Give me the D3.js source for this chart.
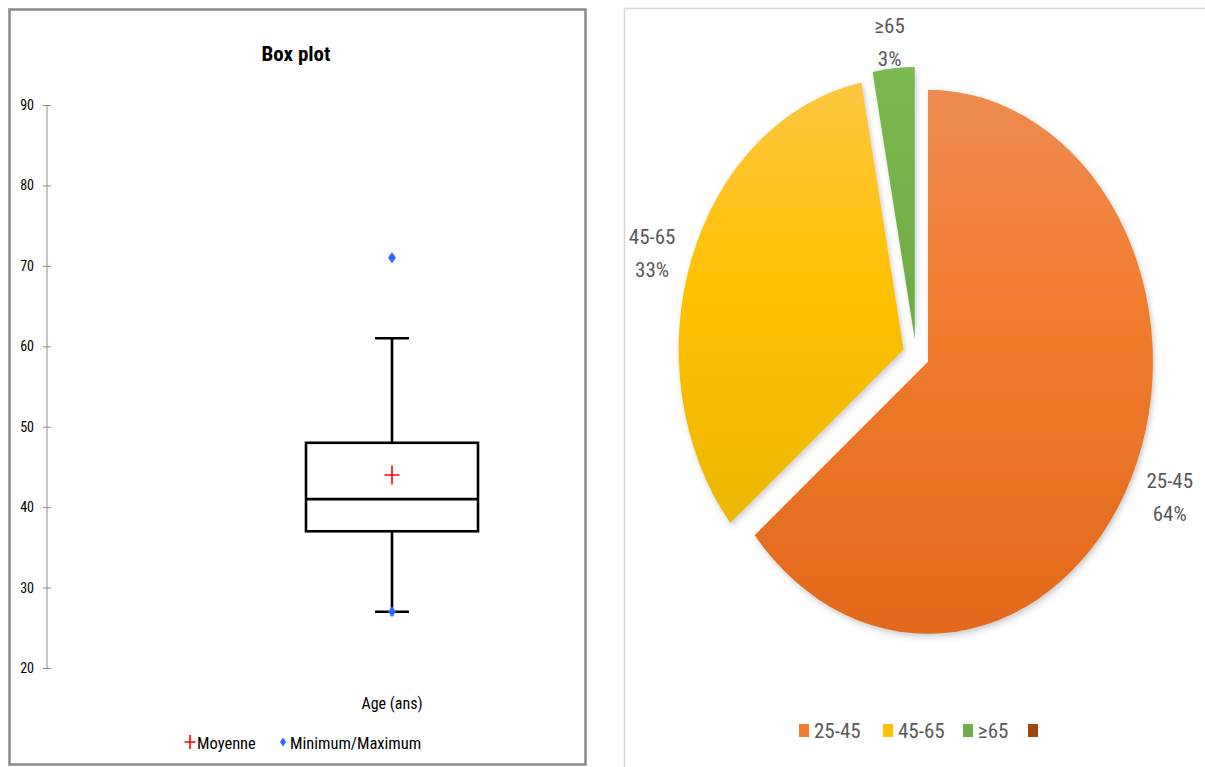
<!DOCTYPE html>
<html>
<head>
<meta charset="utf-8">
<script src="https://cdn.jsdelivr.net/npm/d3@7"></script>
<style>
  html, body { margin: 0; padding: 0; background: #fff; }
  svg { display: block; }
  text { font-family: "Liberation Sans Narrow", "Roboto Condensed", "Liberation Sans", Arial, sans-serif; }
</style>
</head>
<body>
<svg id="chart" width="1205" height="767"></svg>
<script>
// ---------- Data: Box plot ----------
const boxTitle = "Box plot";
const boxCategory = "Age (ans)";
const yTicks = [20, 30, 40, 50, 60, 70, 80, 90];
const boxStats = { whiskerLow: 27, q1: 37, median: 41, q3: 48, whiskerHigh: 61 };
const boxMean = [44];
const boxMinMax = [27, 71];
const boxLegend = ["Moyenne", "Minimum/Maximum"];

// ---------- Data: Pie ----------
const pieCategories = ["25-45", "45-65", "≥65", ""];
const pieValues = [64, 33, 3, 0];
const pieLabels = ["64%", "33%", "3%", ""];
const pieColors = [
  ["#ee8c53", "#f27c2e", "#e2681a"],
  ["#fdc745", "#ffc000", "#e2b20a"],
  ["#7cba50", "#70ad47", "#629e3c"],
  ["#a5501a", "#9e480e", "#8c3e0a"]
];

const svg = d3.select("#chart");

// ================= LEFT PANEL: BOX PLOT =================
svg.append("rect")
  .attr("x", 9.5).attr("y", 9.5).attr("width", 576).attr("height", 755)
  .attr("fill", "#fff").attr("stroke", "#8a8a8a").attr("stroke-width", 2.5);

svg.append("text")
  .attr("x", 296).attr("y", 61).attr("text-anchor", "middle")
  .attr("font-size", 21).attr("font-weight", "bold").attr("fill", "#000")
  .text(boxTitle);

const y = d3.scaleLinear().domain([20, 90]).range([668, 105]);
const x = d3.scaleBand().domain([boxCategory]).range([218, 566]);

const yAxis = svg.append("g")
  .attr("transform", "translate(47,0)")
  .call(d3.axisLeft(y).tickValues(yTicks).tickSize(4).tickPadding(9).tickFormat(d3.format("d")));
yAxis.select(".domain").attr("stroke", "#8c8c8c").attr("d", `M0,${y(20)}V${y(90)}`);
yAxis.selectAll(".tick line").attr("x1", 4).attr("x2", -4).attr("stroke", "#8c8c8c");
yAxis.selectAll(".tick text").attr("font-size", 14).attr("fill", "#000")
  .style("font-family", "'Liberation Sans Narrow', 'Roboto Condensed', 'Liberation Sans', Arial, sans-serif");

const cx = x(boxCategory) + x.bandwidth() / 2;
const boxHalf = 86;
const capHalf = 17;
const g = svg.append("g").attr("stroke", "#000").attr("stroke-width", 2.6).attr("fill", "none");
// whiskers
g.append("line").attr("x1", cx).attr("x2", cx).attr("y1", y(boxStats.q3)).attr("y2", y(boxStats.whiskerHigh));
g.append("line").attr("x1", cx).attr("x2", cx).attr("y1", y(boxStats.q1)).attr("y2", y(boxStats.whiskerLow));
g.append("line").attr("x1", cx - capHalf).attr("x2", cx + capHalf).attr("y1", y(boxStats.whiskerHigh)).attr("y2", y(boxStats.whiskerHigh));
g.append("line").attr("x1", cx - capHalf).attr("x2", cx + capHalf).attr("y1", y(boxStats.whiskerLow)).attr("y2", y(boxStats.whiskerLow));
// box
g.append("rect").attr("x", cx - boxHalf).attr("width", boxHalf * 2)
  .attr("y", y(boxStats.q3)).attr("height", y(boxStats.q1) - y(boxStats.q3)).attr("fill", "#fff");
g.append("line").attr("x1", cx - boxHalf).attr("x2", cx + boxHalf).attr("y1", y(boxStats.median)).attr("y2", y(boxStats.median));

// mean plus
function plus(sel, px, py, w, h) {
  sel.append("path").attr("d", `M${px - w / 2},${py}H${px + w / 2}M${px},${py - h / 2}V${py + h / 2}`)
    .attr("stroke", "#ff0000").attr("stroke-width", 1.6).attr("fill", "none");
}
boxMean.forEach(m => plus(svg, cx, y(m), 15, 19));

// min / max diamonds
function diamond(sel, px, py, w, h) {
  sel.append("path").attr("d", `M${px},${py - h / 2}L${px + w / 2},${py}L${px},${py + h / 2}L${px - w / 2},${py}Z`)
    .attr("fill", "#3366ff");
}
boxMinMax.forEach(v => diamond(svg, cx, y(v), 8, 11));

// category label
svg.append("text").attr("x", cx).attr("y", 709).attr("text-anchor", "middle")
  .attr("font-size", 16).attr("fill", "#000").text(boxCategory);

// legend
plus(svg, 190, 742, 11, 14);
svg.append("text").attr("x", 197).attr("y", 749).attr("font-size", 16.5).attr("fill", "#000").text(boxLegend[0]);
diamond(svg, 283, 742, 6, 9);
svg.append("text").attr("x", 290).attr("y", 749).attr("font-size", 16.5).attr("fill", "#000").text(boxLegend[1]);

// ================= RIGHT PANEL: PIE =================
svg.append("rect")
  .attr("x", 624.5).attr("y", 8.5).attr("width", 620).attr("height", 800)
  .attr("fill", "#fff").attr("stroke", "#d6d6d6").attr("stroke-width", 1.5);

const defs = svg.append("defs");
const shadow = defs.append("filter").attr("id", "shadow")
  .attr("x", "-20%").attr("y", "-20%").attr("width", "140%").attr("height", "140%");
shadow.append("feDropShadow").attr("dx", 2).attr("dy", 3).attr("stdDeviation", 3)
  .attr("flood-color", "#4a5060").attr("flood-opacity", 0.3);

const pcx = 916, pcy = 355, R = 272, sx = 0.827, explode = 16;

pieColors.forEach((c, i) => {
  const lg = defs.append("linearGradient").attr("id", "grad" + i)
    .attr("gradientUnits", "userSpaceOnUse")
    .attr("x1", 0).attr("x2", 0).attr("y1", -R - 10).attr("y2", R + 10);
  lg.append("stop").attr("offset", "0%").attr("stop-color", c[0]);
  lg.append("stop").attr("offset", "40%").attr("stop-color", c[1]);
  lg.append("stop").attr("offset", "100%").attr("stop-color", c[2]);
});

const pie = d3.pie().sort(null).value(d => d).startAngle(0).endAngle(2 * Math.PI);
const arcs = pie(pieValues);
const arc = d3.arc().innerRadius(0).outerRadius(R);

const pieG = svg.append("g").attr("transform", `translate(${pcx},${pcy})`);
arcs.forEach((a, i) => {
  if (a.value <= 0) return;
  const mid = (a.startAngle + a.endAngle) / 2;
  const dx = Math.sin(mid) * explode * sx, dy = -Math.cos(mid) * explode;
  pieG.append("path")
    .attr("d", arc(a))
    .attr("transform", `translate(${dx},${dy}) scale(${sx},1)`)
    .attr("fill", `url(#grad${i})`)
    .attr("filter", "url(#shadow)");
});

// data labels
const gap = 10, hw = 34, hh = 22;
arcs.forEach((a, i) => {
  if (a.value <= 0) return;
  const mid = (a.startAngle + a.endAngle) / 2;
  const ux = Math.sin(mid), uy = -Math.cos(mid);
  const rr = R + explode + gap;
  const lx = pcx + ux * rr * sx + ux * hw;
  const ly = pcy + uy * rr + uy * hh;
  const t = svg.append("text").attr("text-anchor", "middle").attr("font-size", 21).attr("fill", "#595959");
  t.append("tspan").attr("x", lx).attr("y", ly - 3).text(pieCategories[i]);
  t.append("tspan").attr("x", lx).attr("y", ly + 30).text(pieLabels[i]);
});

// legend
const legX = [799, 883, 963, 1028];
pieCategories.forEach((c, i) => {
  svg.append("rect").attr("x", legX[i]).attr("y", 724).attr("width", 10).attr("height", 13)
    .attr("fill", pieColors[i][1]);
  if (c) svg.append("text").attr("x", legX[i] + 15).attr("y", 738).attr("font-size", 21)
    .attr("fill", "#595959").text(c);
});
</script>
</body>
</html>
